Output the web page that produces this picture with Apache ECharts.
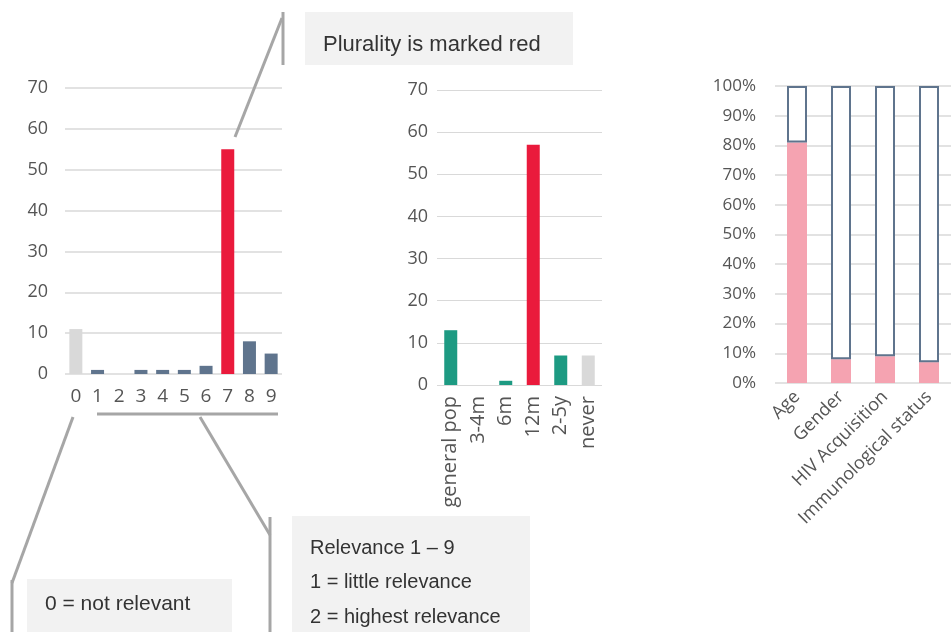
<!DOCTYPE html>
<html><head><meta charset="utf-8">
<script src="https://cdn.jsdelivr.net/npm/echarts@6/dist/echarts.min.js"></script>
<style>html,body{margin:0;padding:0;background:#fff}#c{width:951px;height:632px}</style>
</head><body><div id="c"></div>
<script>
// ---- data ----
const relevanceCats = ['0','1','2','3','4','5','6','7','8','9'];
const relevanceCounts = [11, 1, 0, 1, 1, 1, 2, 55, 8, 5];
const intervalCats = ['general pop','3-4m','6m','12m','2-5y','never'];
const intervalCounts = [13, 0, 1, 57, 7, 7];
const factorCats = ['Age','Gender','HIV Acquisition','Immunological status'];
const factorPct = [81, 8, 9, 7];
const countTicks = [0, 10, 20, 30, 40, 50, 60, 70];
const pctTicks = [0, 10, 20, 30, 40, 50, 60, 70, 80, 90, 100];

// ---- styles ----
const RED = '#ea1a3c', SLATE = '#5f748d', GREY = '#d9d9d9', TEAL = '#1d9a82', PINK = '#f5a3b1';
const LBL = '#555555', GRID = '#d9d9d9', ANN = '#a6a6a6', BOX = '#f2f2f2';
const TF = 'Open Sans', AF = 'Liberation Sans';

const relMax = Math.max(...relevanceCounts);
const intMax = Math.max(...intervalCounts);

const chart = echarts.init(document.getElementById('c'), null, {renderer: 'canvas'});

function yAx(idx, ticks, margin, size, fmt) {
  return {
    type: 'value', gridIndex: idx, min: ticks[0], max: ticks[ticks.length - 1],
    interval: ticks[1] - ticks[0],
    axisLine: {show: false}, axisTick: {show: false},
    splitLine: {lineStyle: {color: GRID, width: idx === 1 ? 1 : 1.5}},
    axisLabel: {color: LBL, fontFamily: TF, fontSize: size, margin: margin, formatter: fmt || '{value}'}
  };
}

const option = {
  animation: false,
  backgroundColor: '#fff',
  grid: [
    {left: 65, top: 88, width: 217, height: 286},
    {left: 437, top: 90, width: 165, height: 295},
    {left: 775, top: 86, width: 180.5, height: 297}
  ],
  xAxis: [
    {type: 'category', gridIndex: 0, data: relevanceCats,
     axisLine: {show: false}, axisTick: {show: false},
     axisLabel: {color: LBL, fontFamily: TF, fontSize: 19, margin: 13, interval: 0}},
    {type: 'category', gridIndex: 1, data: intervalCats,
     axisLine: {show: false}, axisTick: {show: false},
     axisLabel: {color: LBL, fontFamily: TF, fontSize: 20, margin: 11, rotate: 90, interval: 0}},
    {type: 'category', gridIndex: 2, data: factorCats,
     axisLine: {show: false}, axisTick: {show: false},
     axisLabel: {color: LBL, fontFamily: TF, fontSize: 18, margin: 11, rotate: 45, interval: 0}}
  ],
  yAxis: [
    yAx(0, countTicks, 17, 18),
    yAx(1, countTicks, 9, 18),
    yAx(2, pctTicks, 19, 17, '{value}%')
  ],
  series: [
    {type: 'bar', xAxisIndex: 0, yAxisIndex: 0, barWidth: 13, data: relevanceCounts,
     itemStyle: {color: p => p.value === relMax ? RED : (p.name === '0' ? GREY : SLATE)}},
    {type: 'bar', xAxisIndex: 1, yAxisIndex: 1, barWidth: 13, data: intervalCounts,
     itemStyle: {color: p => p.value === intMax ? RED : (p.name === 'never' ? GREY : TEAL)}},
    {type: 'bar', xAxisIndex: 2, yAxisIndex: 2, barWidth: 20, stack: 'f', data: factorPct,
     itemStyle: {color: PINK}},
    {type: 'bar', xAxisIndex: 2, yAxisIndex: 2, barWidth: 20, stack: 'f',
     data: factorPct.map(v => 100 - v),
     itemStyle: {color: '#fff', borderColor: SLATE, borderWidth: 2}}
  ],
  graphic: [
    // boxes
    {type: 'rect', shape: {x: 305, y: 12, width: 268, height: 53}, style: {fill: BOX}, z: 1},
    {type: 'rect', shape: {x: 27, y: 579, width: 205, height: 60}, style: {fill: BOX}, z: 1},
    {type: 'rect', shape: {x: 292, y: 516, width: 238, height: 120}, style: {fill: BOX}, z: 1},
    // connector lines
    {type: 'polyline', shape: {points: [[283, 12], [283, 65]]}, style: {stroke: ANN, lineWidth: 3, fill: null}, z: 2},
    {type: 'polyline', shape: {points: [[282, 18], [235, 137]]}, style: {stroke: ANN, lineWidth: 3, fill: null}, z: 2},
    {type: 'polyline', shape: {points: [[97, 414], [278, 414]]}, style: {stroke: ANN, lineWidth: 3, fill: null}, z: 2},
    {type: 'polyline', shape: {points: [[73, 417], [12, 583]]}, style: {stroke: ANN, lineWidth: 3, fill: null}, z: 2},
    {type: 'polyline', shape: {points: [[12, 580], [12, 640]]}, style: {stroke: ANN, lineWidth: 3, fill: null}, z: 2},
    {type: 'polyline', shape: {points: [[200, 417], [270, 535]]}, style: {stroke: ANN, lineWidth: 3, fill: null}, z: 2},
    {type: 'polyline', shape: {points: [[270, 517], [270, 640]]}, style: {stroke: ANN, lineWidth: 3, fill: null}, z: 2},
    // texts
    {type: 'text', x: 323, y: 45, style: {text: 'Plurality is marked red', fill: '#333', font: '22px "Liberation Sans"', verticalAlign: 'middle'}, z: 3},
    {type: 'text', x: 45, y: 604, style: {text: '0 = not relevant', fill: '#333', font: '21px "Liberation Sans"', verticalAlign: 'middle'}, z: 3},
    {type: 'text', x: 310, y: 548, style: {text: 'Relevance 1 \u2013 9', fill: '#333', font: '20px "Liberation Sans"', verticalAlign: 'middle'}, z: 3},
    {type: 'text', x: 310, y: 582, style: {text: '1 = little relevance', fill: '#333', font: '20px "Liberation Sans"', verticalAlign: 'middle'}, z: 3},
    {type: 'text', x: 310, y: 617, style: {text: '2 = highest relevance', fill: '#333', font: '20px "Liberation Sans"', verticalAlign: 'middle'}, z: 3}
  ]
};
chart.setOption(option);
</script>
</body></html>
